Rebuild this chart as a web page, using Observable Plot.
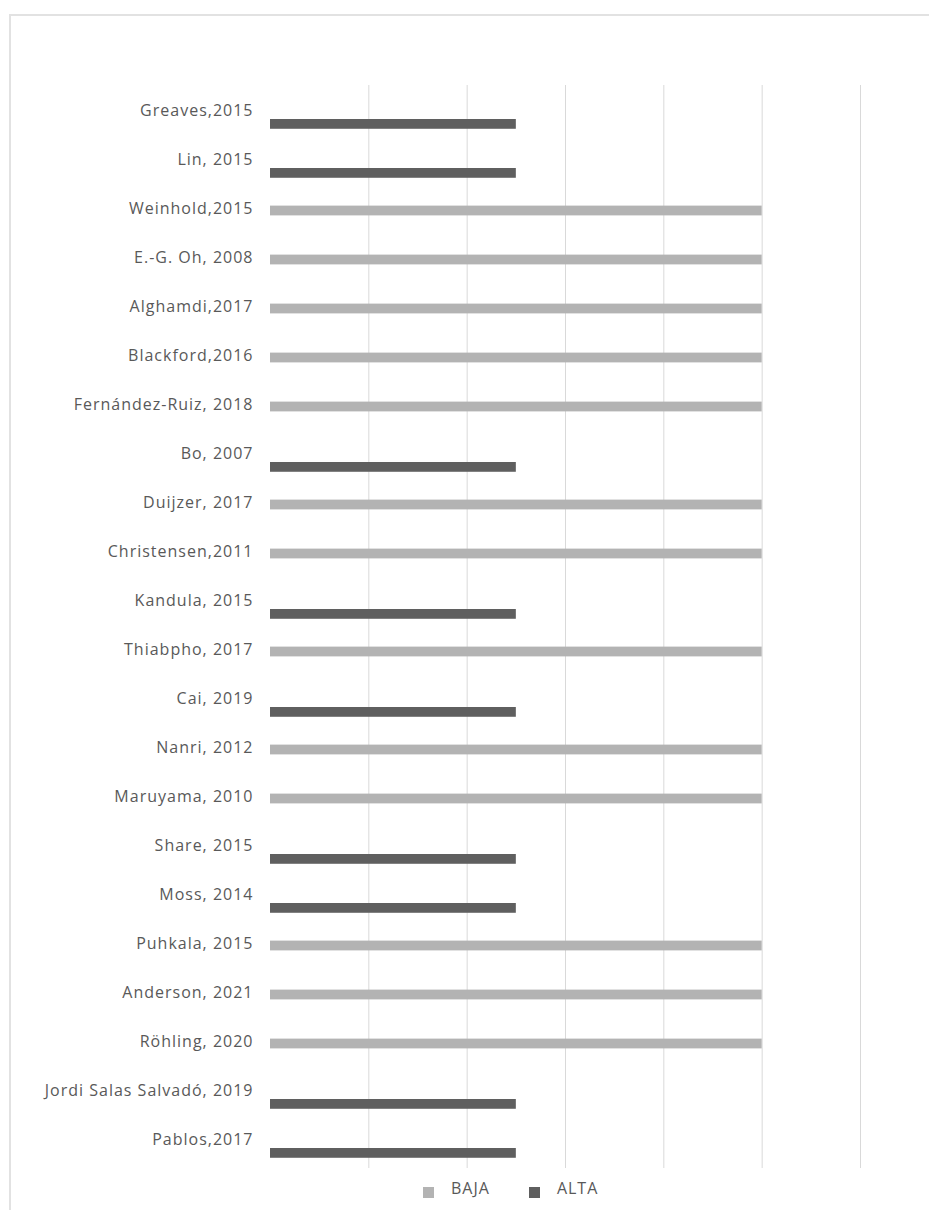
<!DOCTYPE html>
<html>
<head>
<meta charset="utf-8">
<script src="https://cdn.jsdelivr.net/npm/d3@7"></script>
<script src="https://cdn.jsdelivr.net/npm/@observablehq/plot@0.6"></script>
<style>
  body { margin: 0; background: #fff; font-family: "Open Sans", sans-serif; }
  #frame { position: absolute; left: 9px; top: 14px; right: 0; bottom: 0;
           border-top: 2px solid #e2e2e2; border-left: 2px solid #e2e2e2; }
  #chart { position: absolute; left: 0; top: 0; }
  #chart text { letter-spacing: 1px; }
  #legend { position: absolute; left: 423px; top: 1177px; }
</style>
</head>
<body>
<div id="frame"></div>
<div id="chart"></div>
<div id="legend"></div>
<script>
// Studies, top to bottom
const studies = [
  "Greaves,2015", "Lin, 2015", "Weinhold,2015", "E.-G. Oh, 2008", "Alghamdi,2017",
  "Blackford,2016", "Fernández-Ruiz, 2018", "Bo, 2007", "Duijzer, 2017", "Christensen,2011",
  "Kandula, 2015", "Thiabpho, 2017", "Cai, 2019", "Nanri, 2012", "Maruyama, 2010",
  "Share, 2015", "Moss, 2014", "Puhkala, 2015", "Anderson, 2021", "Röhling, 2020",
  "Jordi Salas Salvadó, 2019", "Pablos,2017"
];
// Risk-of-bias level per study
const levels = [
  "ALTA", "ALTA", "BAJA", "BAJA", "BAJA",
  "BAJA", "BAJA", "ALTA", "BAJA", "BAJA",
  "ALTA", "BAJA", "ALTA", "BAJA", "BAJA",
  "ALTA", "ALTA", "BAJA", "BAJA", "BAJA",
  "ALTA", "ALTA"
];
// Bar length per study
const values = [
  2.5, 2.5, 5, 5, 5,
  5, 5, 2.5, 5, 5,
  2.5, 5, 2.5, 5, 5,
  2.5, 2.5, 5, 5, 5,
  2.5, 2.5
];
const levelNames = ["BAJA", "ALTA"];
const levelColors = ["#b3b3b3", "#5f5f5f"];
const gridTicks = [1, 2, 3, 4, 5, 6];

const rows = studies.map((study, i) => ({study, level: levels[i], value: values[i]}));

const width = 929, height = 1176;
const marginTop = 85, marginBottom = 8, marginLeft = 270, marginRight = 69;
const bandH = (height - marginTop - marginBottom) / studies.length;
const barH = 10;

const chart = Plot.plot({
  width, height, marginTop, marginBottom, marginLeft, marginRight,
  style: {fontFamily: "'Open Sans', sans-serif", background: "transparent", overflow: "visible"},
  x: {domain: [0, 6], axis: null},
  y: {domain: studies, padding: 0, axis: null},
  color: {domain: levelNames, range: levelColors},
  marks: [
    Plot.ruleX(gridTicks, {stroke: "#d9d9d9", strokeWidth: 1}),
    // low-risk bars sit in the middle of each row
    Plot.barX(rows.filter(d => d.level === "BAJA"), {
      x: "value", y: "study", fill: "level",
      insetTop: (bandH - barH) / 2, insetBottom: (bandH - barH) / 2
    }),
    // high-risk bars sit in the lower slot of each row
    Plot.barX(rows.filter(d => d.level === "ALTA"), {
      x: "value", y: "study", fill: "level",
      insetTop: 31, insetBottom: bandH - 31 - barH
    }),
    Plot.axisY({tickSize: 0, tickPadding: 17, fontSize: 16, fill: "#595959", label: null, dy: -2})
  ]
});
document.getElementById("chart").appendChild(chart);

const legend = Plot.legend({
  color: {type: "categorical", domain: levelNames, range: levelColors},
  swatchSize: 11,
  style: {fontFamily: "'Open Sans', sans-serif", fontSize: "16px", color: "#595959", letterSpacing: "1px"}
});
document.getElementById("legend").appendChild(legend);
d3.select(legend).style("margin", "0").style("min-height", "0");
d3.select(legend).selectAll("span").style("margin-right", "39px").style("align-items", "center");
d3.select(legend).selectAll("span > svg").style("margin-right", "17px").style("margin-top", "8px");
</script>
</body>
</html>
